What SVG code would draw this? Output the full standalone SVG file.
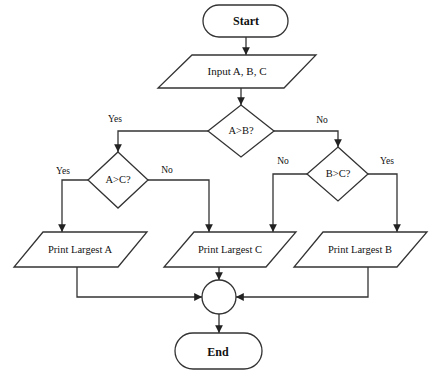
<svg xmlns="http://www.w3.org/2000/svg" width="440" height="373" viewBox="0 0 440 373">
<style>
.shape{fill:#fff;stroke:#333;stroke-width:1.3}
.conn{fill:none;stroke:#333;stroke-width:1.3}
text{font-family:"Liberation Serif","Times New Roman",serif;font-size:10.5px;fill:#111;text-anchor:middle}
.lbl{font-size:9.5px}
.term{font-size:12px;font-weight:bold}
</style>
<defs>
<marker id="arr" viewBox="0 0 8 8" refX="8" refY="4" markerWidth="6" markerHeight="6" orient="auto">
<path d="M0,0 L8,4 L0,8 z" fill="#222"/>
</marker>
</defs>
<rect width="440" height="373" fill="#fff"/>
<g id="connectors">
<path class="conn" d="M246,37 V55" marker-end="url(#arr)"/>
<path class="conn" d="M241,88 V105" marker-end="url(#arr)"/>
<path class="conn" d="M208,131 H118 V152" marker-end="url(#arr)"/>
<path class="conn" d="M274,131 H338 V147" marker-end="url(#arr)"/>
<path class="conn" d="M88,180 H62 V232" marker-end="url(#arr)"/>
<path class="conn" d="M148,180 H209 V232" marker-end="url(#arr)"/>
<path class="conn" d="M307,174 H273 V232" marker-end="url(#arr)"/>
<path class="conn" d="M368,174 H397 V232" marker-end="url(#arr)"/>
<path class="conn" d="M77,267 V297 H202" marker-end="url(#arr)"/>
<path class="conn" d="M368,267 V297 H236" marker-end="url(#arr)"/>
<path class="conn" d="M219,267 V280" marker-end="url(#arr)"/>
<path class="conn" d="M219,314 V333" marker-end="url(#arr)"/>
<text class="lbl" x="115" y="122">Yes</text>
<text class="lbl" x="322" y="123">No</text>
<text class="lbl" x="63" y="174">Yes</text>
<text class="lbl" x="167" y="173">No</text>
<text class="lbl" x="283" y="164">No</text>
<text class="lbl" x="387" y="164">Yes</text>
</g>
<g id="start">
<rect class="shape" x="203" y="5" width="85" height="32" rx="16"/>
<text class="term" x="246" y="25">Start</text>
</g>
<g id="input">
<polygon class="shape" points="192,55 316,55 284,88 158,88"/>
<text x="237" y="75" style="font-size:11px">Input A, B, C</text>
</g>
<g id="dAB">
<polygon class="shape" points="241,105 274,131 241,157 208,131"/>
<text x="241" y="134">A&gt;B?</text>
</g>
<g id="dAC">
<polygon class="shape" points="118,152 148,180 118,208 88,180"/>
<text x="118" y="183">A&gt;C?</text>
</g>
<g id="dBC">
<polygon class="shape" points="338,147 368,174 338,201 307,174"/>
<text x="338" y="177">B&gt;C?</text>
</g>
<g id="printA">
<polygon class="shape" points="43,232 147,232 118,267 14,267"/>
<text x="80" y="253">Print Largest A</text>
</g>
<g id="printC">
<polygon class="shape" points="194,232 296,232 266,267 164,267"/>
<text x="230" y="253">Print Largest C</text>
</g>
<g id="printB">
<polygon class="shape" points="323,232 427,232 397,267 294,267"/>
<text x="360" y="253">Print Largest B</text>
</g>
<g id="join">
<circle class="shape" cx="219" cy="297" r="17"/>
</g>
<g id="end">
<rect class="shape" x="175" y="333" width="87" height="36" rx="18"/>
<text class="term" x="218" y="356">End</text>
</g>
</svg>
